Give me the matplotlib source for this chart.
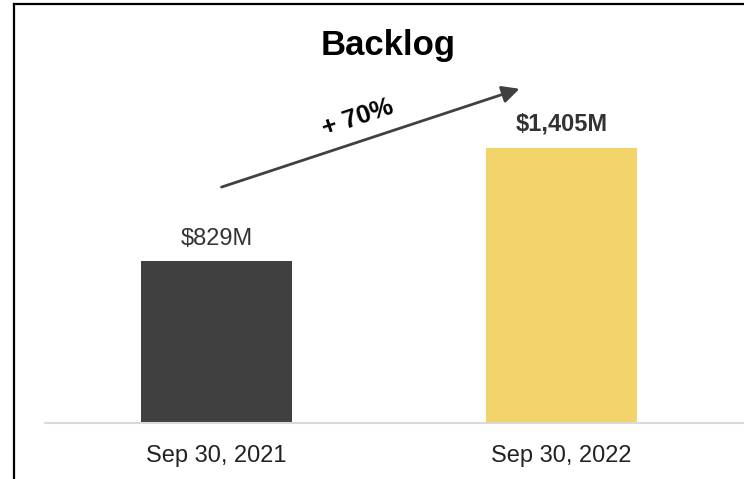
import matplotlib.pyplot as plt
from matplotlib.lines import Line2D

plt.rcParams['font.family'] = ['Liberation Sans', 'DejaVu Sans']

# data
dates = ['Sep 30, 2021', 'Sep 30, 2022']
backlog = [829, 1405]
labels = ['$829M', '$1,405M']
colors = ['#404040', '#F2D46B']

fig = plt.figure(figsize=(7.44, 4.79), dpi=100)
ax = fig.add_axes([45/744, 56/479, 699/744, 423/479])

x = [0, 1]
ax.bar(x, backlog, width=0.438, color=colors)
ax.set_xlim(-0.497, 1.529)
ax.set_ylim(0, 2165)

# value labels
ax.text(0, backlog[0] + 115, labels[0], ha='center', va='center', fontsize=17, color='#333333')
ax.text(1, backlog[1] + 125, labels[1], ha='center', va='center', fontsize=17,
        fontweight='bold', color='#333333')

# growth arrow
ax.annotate('', xy=(0.886, 1715), xytext=(0.007, 1203),
            arrowprops=dict(arrowstyle='-|>', color='#404040', lw=2, mutation_scale=26))
ax.text(0.41, 1560, '+ 70%', rotation=18.3, ha='center', va='center', fontsize=18.5,
        fontweight='bold', color='black')

ax.set_xticks(x)
ax.set_xticklabels(dates, fontsize=17, color='#222222')
ax.tick_params(axis='x', length=0, pad=16)
ax.set_yticks([])
for s in ['top', 'right', 'left']:
    ax.spines[s].set_visible(False)
ax.spines['bottom'].set_color('#d9d9d9')
ax.spines['bottom'].set_linewidth(1.5)

fig.text(388/744, 1 - 45/479, 'Backlog', ha='center', va='center', fontsize=25, fontweight='bold')

# outer frame (left and top edges visible)
fig.add_artist(Line2D([14/744, 14/744], [0, 1 - 4/479], color='black', lw=1.6))
fig.add_artist(Line2D([14/744, 1], [1 - 4/479, 1 - 4/479], color='black', lw=1.6))

fig.savefig('out.png', dpi=100)
